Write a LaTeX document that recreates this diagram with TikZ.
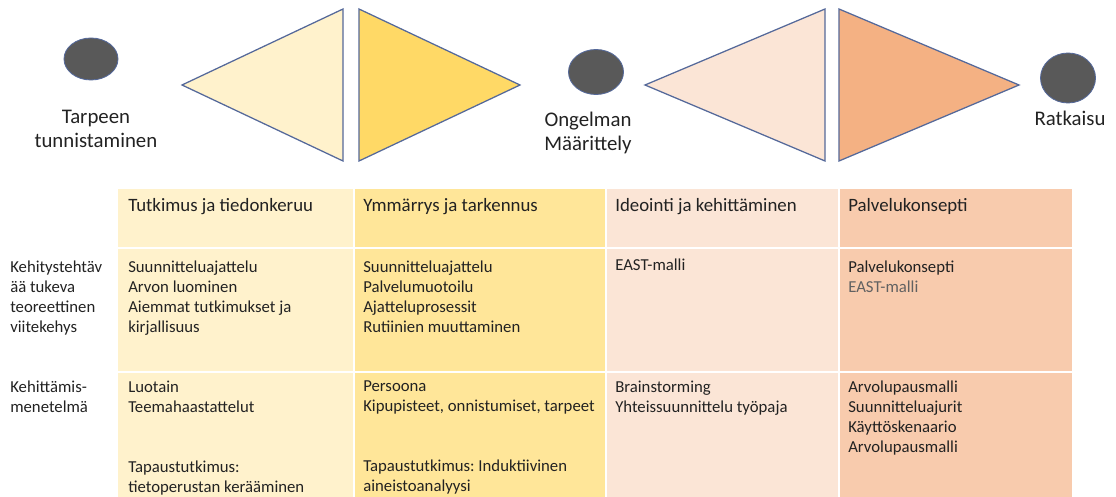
\documentclass[tikz,border=0pt]{standalone}
\usepackage{fontspec}
\setmainfont{Carlito}
\frenchspacing
\usetikzlibrary{positioning, shapes.geometric}

\definecolor{cream}{HTML}{FFF2CC}
\definecolor{gold}{HTML}{FFD966}
\definecolor{goldcol}{HTML}{FFE699}
\definecolor{peach}{HTML}{FBE5D6}
\definecolor{apricot}{HTML}{F4B183}
\definecolor{apricotcol}{HTML}{F8CBAD}
\definecolor{edgeblue}{HTML}{55699A}
\definecolor{dotgray}{HTML}{595959}
\definecolor{ink}{HTML}{222222}

\begin{document}
\begin{tikzpicture}[
        x=0.025cm, y=-0.025cm,
        every node/.style={text=ink},
        milestone/.style={ellipse, draw=edgeblue, line width=0.6pt, fill=dotgray, inner sep=0pt},
        phase/.style={draw=edgeblue, line width=0.9pt, line join=miter},
        toplabel/.style={font=\fontsize{14.8}{17.1}\selectfont, align=center, inner sep=0pt, anchor=north},
        headtext/.style={font=\fontsize{13.4}{16}\selectfont, anchor=base west, inner sep=0pt, align=left},
        celltext/.style={font=\fontsize{11.9}{14.2}\selectfont, anchor=north west, inner sep=0pt, align=left,
            execute at begin node={\rule{0pt}{10pt}}, yshift=6.5pt},
        sep/.style={white, line width=1.6pt},
    ]
    \useasboundingbox (0,0) rectangle (1116,497);

    %% ===== Milestones =====
    \node[milestone, minimum width=1.35cm, minimum height=1.05cm] (tarve) at (91,59) {};
    \node[milestone, minimum width=1.375cm, minimum height=1.125cm] (ongelma) at (596,72) {};
    \node[milestone, minimum width=1.375cm, minimum height=1.25cm] (ratkaisu) at (1068,78) {};

    \node[toplabel, below=21pt of tarve, xshift=3.5pt] (tarve_txt) {Tarpeen\\tunnistaminen};
    \node[toplabel] (ongelma_txt) at (588,112) {Ongelman\\Määrittely};
    \node[toplabel] (ratkaisu_txt) at (1070,111) {Ratkaisu};

    %% ===== Diverge / converge triangles =====
    \filldraw[phase, fill=cream] (182,85) -- (343,9) -- (343,161) -- cycle;
    \filldraw[phase, fill=gold] (359,9) -- (520,85) -- (359,161) -- cycle;
    \filldraw[phase, fill=peach] (645,85) -- (825,9) -- (825,161) -- cycle;
    \filldraw[phase, fill=apricot] (839,9) -- (1019,85) -- (839,161) -- cycle;

    %% ===== Table columns =====
    \fill[cream] (118,189) rectangle (354,497);
    \fill[goldcol] (354,189) rectangle (606,497);
    \fill[peach] (606,189) rectangle (839,497);
    \fill[apricotcol] (839,189) rectangle (1072,497);
    \foreach \cx in {354,606,839}
        \draw[sep] (\cx,189) -- (\cx,497);
    \foreach \ry in {248,372}
        \draw[sep] (118,\ry) -- (1072,\ry);

    %% ===== Header row =====
    \node[headtext] (head_tutkimus) at (128,212) {Tutkimus ja tiedonkeruu};
    \node[headtext] (head_ymmarrys) at (363,212) {Ymmärrys ja tarkennus};
    \node[headtext] (head_ideointi) at (615,212) {Ideointi ja kehittäminen};
    \node[headtext] (head_konsepti) at (848,212) {Palvelukonsepti};

    %% ===== Theory row =====
    \node[celltext] (teoria) at (10,270) {Kehitystehtäv\\ää tukeva\\teoreettinen\\viitekehys};
    \node[celltext] (teoria_tutkimus) at (128,270) {Suunnitteluajattelu\\Arvon luominen\\Aiemmat tutkimukset ja\\kirjallisuus};
    \node[celltext] (teoria_ymmarrys) at (363,270) {Suunnitteluajattelu\\Palvelumuotoilu\\Ajatteluprosessit\\Rutiinien muuttaminen};
    \node[celltext, yshift=3.5pt] (teoria_ideointi) at (615,270) {EAST-malli};
    \node[celltext] (teoria_konsepti) at (848,270) {Palvelukonsepti\\{\color{black!62}EAST-malli}};

    %% ===== Method row =====
    \node[celltext] (menetelma) at (10,390) {Kehittämis-\\menetelmä};
    \node[celltext] (menetelma_tutkimus) at (128,390) {Luotain\\Teemahaastattelut\\[28.4pt]Tapaustutkimus:\\tietoperustan kerääminen};
    \node[celltext] (menetelma_ymmarrys) at (363,390) {Persoona\\Kipupisteet, onnistumiset, tarpeet\\[28.4pt]Tapaustutkimus: Induktiivinen\\aineistoanalyysi};
    \node[celltext] (menetelma_ideointi) at (615,390) {Brainstorming\\Yhteissuunnittelu työpaja};
    \node[celltext] (menetelma_konsepti) at (848,390) {Arvolupausmalli\\Suunnitteluajurit\\Käyttöskenaario\\Arvolupausmalli};

\end{tikzpicture}
\end{document}
